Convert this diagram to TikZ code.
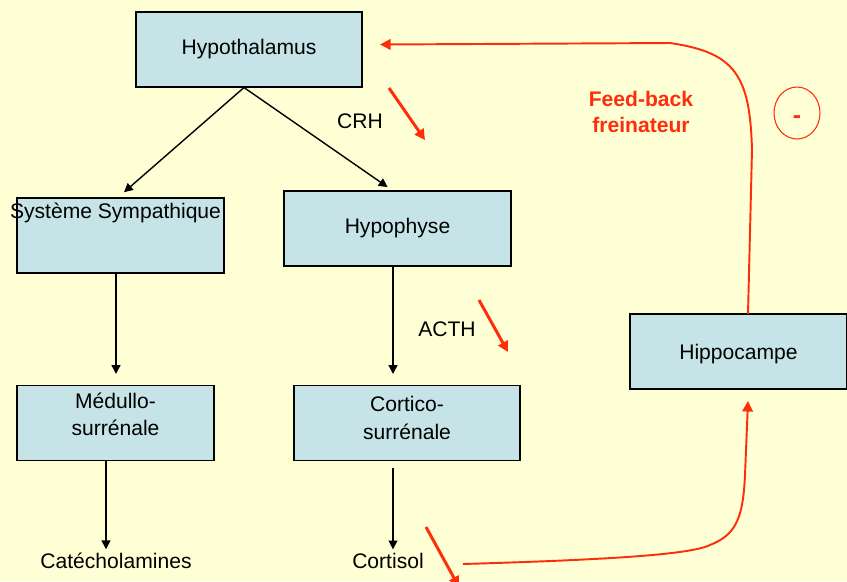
\documentclass[tikz,border=0pt]{standalone}
\usepackage{fontspec}
\setmainfont{Liberation Sans}
\usetikzlibrary{positioning, arrows.meta, shapes.geometric}

\definecolor{bgyellow}{RGB}{255,255,214}
\definecolor{boxblue}{RGB}{198,228,232}
\definecolor{fbred}{RGB}{255,45,10}

\begin{document}
\begin{tikzpicture}[
  font=\fontsize{12}{14.5}\selectfont,
  organ/.style={
    draw=black, line width=0.6pt, fill=boxblue,
    minimum height=1.5cm, align=center, inner sep=0pt
  },
  toplabel/.style={anchor=north, align=center, inner sep=3pt,
    font=\fontsize{12}{15.5}\selectfont},
  axe/.style={-{Triangle[length=5pt, width=5pt]}, line width=0.8pt, draw=black},
  signal/.style={-{Triangle[length=6pt, width=6pt]}, line width=1.7pt, draw=fbred},
  retro/.style={-{Triangle[length=6pt, width=6pt]}, line width=1.1pt, draw=fbred},
  hormone/.style={inner sep=2pt},
]

% Background and frame
\clip (0,0) rectangle (16.94,-11.62);
\fill[bgyellow] (0,0) rectangle (16.94,-11.62);

% Boxes
\node[organ, minimum width=4.52cm] (hypoth) at (4.98, -0.99) {Hypothalamus};
\node[organ, minimum width=4.14cm,
      label={[toplabel, xshift=-0.1cm]north:Système Sympathique}] (sympa) at (2.41, -4.71) {};
\node[organ, minimum width=4.54cm] (hypoph) at (7.95, -4.57) {Hypophyse};
\node[organ, minimum width=3.94cm,
      label={[toplabel, yshift=-0.04cm]north:Médullo-\\surrénale}] (medullo) at (2.31, -8.46) {};
\node[organ, minimum width=4.52cm,
      label={[toplabel, yshift=-0.12cm]north:Cortico-\\surrénale}] (cortico) at (8.14, -8.46) {};
\node[organ, minimum width=4.34cm, text depth=-0.16cm] (hippo) at (14.77, -7.03) {Hippocampe};

% Products
\node[hormone] (catecho) at (2.32, -11.22) {Catécholamines};
\node[hormone] (cortisol) at (7.76, -11.22) {Cortisol};

% Hormone labels
\node (crh) at (7.2, -2.42) {CRH};
\node (acth) at (8.94, -6.58) {ACTH};

% Feed-back annotation
\node[text=fbred, font=\fontsize{12}{14.5}\selectfont\bfseries, align=center]
  (fbtext) at (12.82, -2.24) {Feed-back\\freinateur};
\node[draw=fbred, line width=0.6pt, ellipse, minimum width=0.92cm,
      minimum height=1.04cm, inner sep=0pt, text=fbred,
      font=\fontsize{14}{16}\selectfont\bfseries] (moins) at (15.94, -2.26)
  {\smash{\raisebox{-6pt}{-}}};

% Black cascade
\draw[axe, shorten >=0.16cm] ([xshift=-0.1cm]hypoth.south) -- ([xshift=-0.05cm]sympa.north);
\draw[axe, shorten >=0.12cm] ([xshift=-0.1cm]hypoth.south) -- ([xshift=-0.1cm]hypoph.north);
\draw[axe, shorten >=0.22cm] ([xshift=-0.09cm]sympa.south) -- ([xshift=-0.09cm]sympa.south |- medullo.north);
\draw[axe, shorten >=0.22cm] ([xshift=-0.09cm]hypoph.south) -- ([xshift=-0.09cm]hypoph.south |- cortico.north);
\draw[axe] ([xshift=-0.19cm]medullo.south) -- ([xshift=-0.19cm]medullo.south |- catecho.north);
\draw[axe, shorten <=0.14cm] ([xshift=0.1cm]cortisol.north |- cortico.south) -- ([xshift=0.1cm]cortisol.north);

% Short red arrows (secretion)
\coordinate (crh1) at (7.78, -1.76);
\coordinate (crh2) at (8.50, -2.80);
\coordinate (acth1) at (9.58, -6.00);
\coordinate (acth2) at (10.16, -7.04);
\coordinate (cort1) at (8.52, -10.54);
\coordinate (cort2) at (9.18, -11.74);
\draw[signal] (crh1) -- (crh2);
\draw[signal] (acth1) -- (acth2);
\draw[signal] (cort1) -- (cort2);

% Feed-back loop
\coordinate (fbstart) at (9.26, -11.28);
\coordinate (hippoin) at (14.96, -8.02);
\coordinate (hippoout) at (14.96, -6.28);
\coordinate (hypothin) at (7.60, -0.89);
\draw[retro] (fbstart) .. controls (12, -11.2) and (13.8, -11.1) .. (14.2, -10.9)
  .. controls (14.7, -10.7) and (14.86, -10.4) .. (14.9, -9.5) -- (hippoin);
\draw[retro] (hippoout) -- (15.04, -3.0) .. controls (15.0, -1.5) and (14.7, -1.05) .. (13.4, -0.86)
  -- (hypothin);

\end{tikzpicture}
\end{document}
